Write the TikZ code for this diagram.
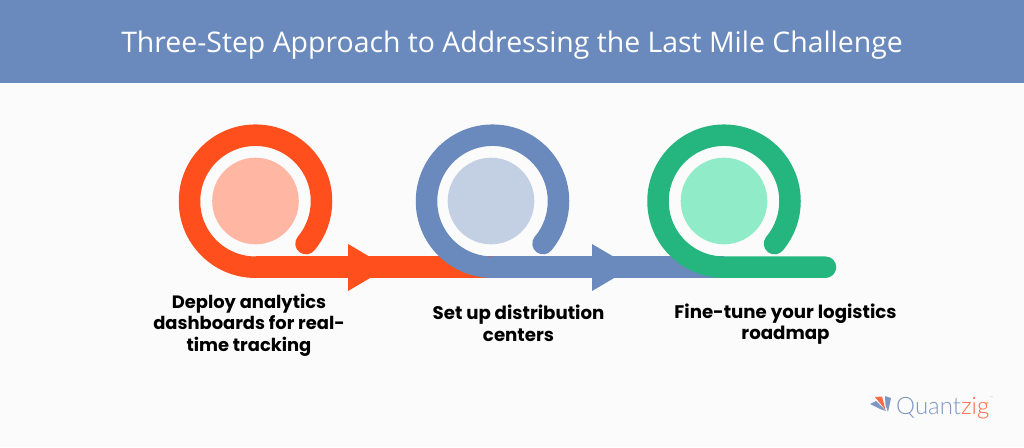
\documentclass[tikz,border=0pt]{standalone}
\usepackage{fontspec}
\setmainfont{Open Sans}
\newfontfamily\capfont{Poppins}[UprightFont=*-Bold]
\newfontfamily\logofont{Lato}[UprightFont=*-Light]
\definecolor{bgc}{HTML}{FBFBFB}
\definecolor{headc}{HTML}{6A89BC}
\definecolor{redc}{HTML}{FF4F1C}
\definecolor{redl}{HTML}{FFB6A2}
\definecolor{bluec}{HTML}{6A89BC}
\definecolor{bluel}{HTML}{C3D0E3}
\definecolor{greenc}{HTML}{25B67F}
\definecolor{greenl}{HTML}{90EBC9}
\definecolor{logob}{HTML}{7E97C2}
\definecolor{logor}{HTML}{FB6A45}
\tikzset{
  ribbon/.style={line width=21.5pt,line cap=round},
  flatribbon/.style={line width=21.5pt,line cap=butt},
  loopback/.style={radius=66,start angle=90,delta angle=310},
  disc/.style={circle,minimum size=86.6pt,inner sep=0pt,draw=none},
  caption/.style={font=\capfont\fontsize{18.2}{21.6}\selectfont,align=center,text=black,inner sep=0pt},
}
\begin{document}
\begin{tikzpicture}[x=1pt,y=-1pt]
\useasboundingbox (0,0) rectangle (1024,447);
\fill[bgc] (0,0) rectangle (1024,447);
\node[fill=headc,minimum width=1024pt,minimum height=83pt,inner sep=0pt,anchor=north west] (head) at (0,0) {};
\node[text=white,font=\fontsize{28.4}{34}\selectfont] (title) at (512,45.5) {Three-Step Approach to Addressing the Last Mile Challenge};
% anchors
\coordinate (c1) at (255.5,201);
\coordinate (c2) at (491,201);
\coordinate (c3) at (724,201);
\coordinate (b1) at (255.5,267.2);
\coordinate (b2) at (492.5,267.2);
\coordinate (b3) at (724,267.2);
\coordinate (tail) at (825.5,267.2);
% discs
\node[disc,fill=redl] (d1) at (c1) {};
\node[disc,fill=bluel] (d2) at (c2) {};
\node[disc,fill=greenl] (d3) at (c3) {};
% red
\fill[redc] (348,244) -- (388,267.5) -- (348,291) -- cycle;
\draw[flatribbon,redc] (b1) -- (b2);
\draw[ribbon,redc] (b1) arc[loopback];
% blue
\fill[bluec] (592,244) -- (632,267.5) -- (592,291) -- cycle;
\draw[flatribbon,bluec] (b2) -- (b3);
\draw[ribbon,bluec] (b2) arc[loopback];
% green
\draw[ribbon,greenc] (tail) -- (b3) arc[loopback];
% captions
\node[caption,font=\capfont\fontsize{17.9}{21.6}\selectfont] (t1) at (249,325) {Deploy analytics\\dashboards for real-\\time tracking};
\node[caption] (t2) at (518.5,323.5) {Set up distribution\\centers};
\node[caption] (t3) at (785.5,324) {Fine-tune your logistics\\roadmap};
% logo
\fill[logob] (870,404) -- (876,401) -- (886,411) -- (880,409) -- cycle;
\fill[logor] (875,397) -- (882,396.5) -- (885.5,410) -- cycle;
\fill[logob] (885,396) -- (891,398) -- (888,412) -- (885.5,405) -- cycle;
\node[anchor=base west,inner sep=0pt,font=\logofont\fontsize{24}{24}\selectfont] (logo) at (896,414) {\textcolor{logob}{Quant}\textcolor{logor}{zig}};
\node[anchor=west,inner sep=0pt,text=logob,font=\logofont\fontsize{4}{4}\selectfont] (tm) at (990,398.5) {™};
\end{tikzpicture}
\end{document}
